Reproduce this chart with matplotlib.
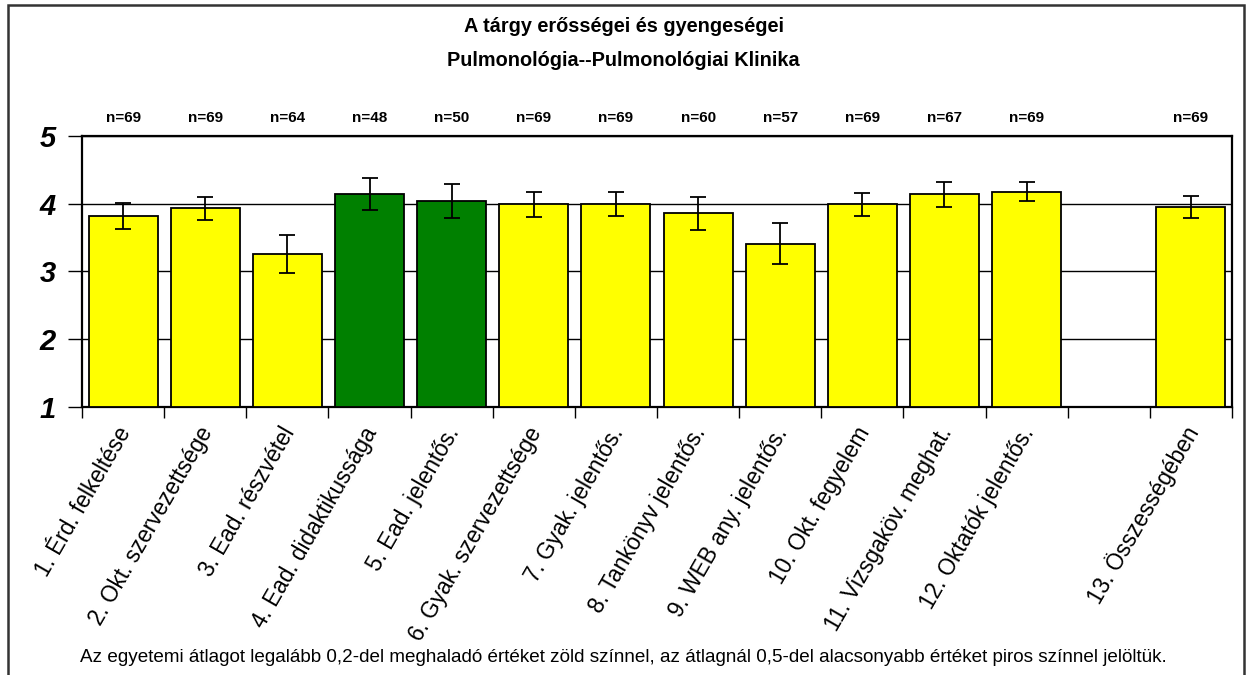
import numpy as np
import matplotlib
matplotlib.use("Agg")
import matplotlib.pyplot as plt
from matplotlib.patches import Rectangle

plt.rcParams['font.family'] = ['Liberation Sans', 'DejaVu Sans']

title_lines = ["A tárgy erősségei és gyengeségei", "Pulmonológia--Pulmonológiai Klinika"]
categories = ["1. Érd. felkeltése", "2. Okt. szervezettsége", "3. Ead. részvétel",
              "4. Ead. didaktikussága", "5. Ead. jelentős.", "6. Gyak. szervezettsége",
              "7. Gyak. jelentős.", "8. Tankönyv jelentős.", "9. WEB any. jelentős.",
              "10. Okt. fegyelem", "11. Vizsgaköv. meghat.", "12. Oktatók jelentős.",
              "", "13. Összességében"]
means = [3.82, 3.93, 3.26, 4.14, 4.04, 3.99, 4.00, 3.86, 3.41, 3.99, 4.14, 4.18, np.nan, 3.95]
errors = [0.19, 0.17, 0.28, 0.235, 0.255, 0.185, 0.175, 0.245, 0.30, 0.165, 0.185, 0.14, np.nan, 0.16]
n_labels = ["n=69", "n=69", "n=64", "n=48", "n=50", "n=69", "n=69", "n=60", "n=57",
            "n=69", "n=67", "n=69", "", "n=69"]
highlight = ["y", "y", "y", "g", "g", "y", "y", "y", "y", "y", "y", "y", "", "y"]
color_map = {"y": "#FFFF00", "g": "#008000", "": "none"}
y_ticks = [1, 2, 3, 4, 5]
footnote = ("Az egyetemi átlagot legalább 0,2-del meghaladó értéket zöld színnel, "
            "az átlagnál 0,5-del alacsonyabb értéket piros színnel jelöltük.")

W, H = 1247, 675
fig = plt.figure(figsize=(W / 100, H / 100), dpi=100)
ax = fig.add_axes([82 / W, 1 - 407 / H, (1232 - 82) / W, (407 - 136) / H])

x = np.arange(len(categories))
base = 1
heights = [m - base if not np.isnan(m) else 0 for m in means]
colors = [color_map[h] for h in highlight]
ax.bar(x, heights, bottom=base, width=0.84, color=colors, edgecolor="black",
       linewidth=1.3, zorder=3)
ax.errorbar(x, means, yerr=errors, fmt="none", ecolor="black", elinewidth=1.3,
            capsize=5.5, capthick=1.3, zorder=4)

ax.set_xlim(-0.5, len(categories) - 0.5)
ax.set_ylim(1, 5)
ax.set_yticks(y_ticks)
ax.set_yticklabels([str(t) for t in y_ticks], fontsize=21, fontweight="bold",
                   fontstyle="italic")
ax.yaxis.grid(True, color="black", linewidth=1.0, zorder=1)
ax.tick_params(axis="y", length=10, width=1.0, pad=9, direction="out")

ax.set_xticks(x)
ax.set_xticklabels([])
ax.tick_params(axis="x", which="major", length=0)
ax.set_xticks(np.arange(len(categories) + 1) - 0.5, minor=True)
ax.tick_params(axis="x", which="minor", length=8, width=1.0, direction="out")

for xi, lab in zip(x, categories):
    if lab:
        ax.text(xi + 0.03, -0.08, lab, rotation=60, rotation_mode="anchor",
                ha="right", va="center", fontsize=16.3,
                transform=ax.get_xaxis_transform())

for xi, nl in zip(x, n_labels):
    if nl:
        ax.text(xi, 1.068, nl, ha="center", va="center", fontsize=11,
                fontweight="bold", transform=ax.get_xaxis_transform())

for s in ax.spines.values():
    s.set_linewidth(1.6)
    s.set_color("black")

fig.text(0.5, 1 - 27 / H, title_lines[0], ha="center", va="center", fontsize=14.3,
         fontweight="bold")
fig.text(0.5, 1 - 60 / H, title_lines[1], ha="center", va="center", fontsize=14.3,
         fontweight="bold")
fig.text(0.5, 1 - 657 / H, footnote, ha="center", va="center", fontsize=13.6)

# outer chart frame (bottom edge lies below the image)
frame = Rectangle((8 / W, -0.05), (1244 - 8) / W, 1 - 5 / H + 0.05,
                  transform=fig.transFigure, fill=False, edgecolor="#333333",
                  linewidth=1.8)
fig.patches.append(frame)

fig.savefig("out.png", dpi=100, facecolor="white")
